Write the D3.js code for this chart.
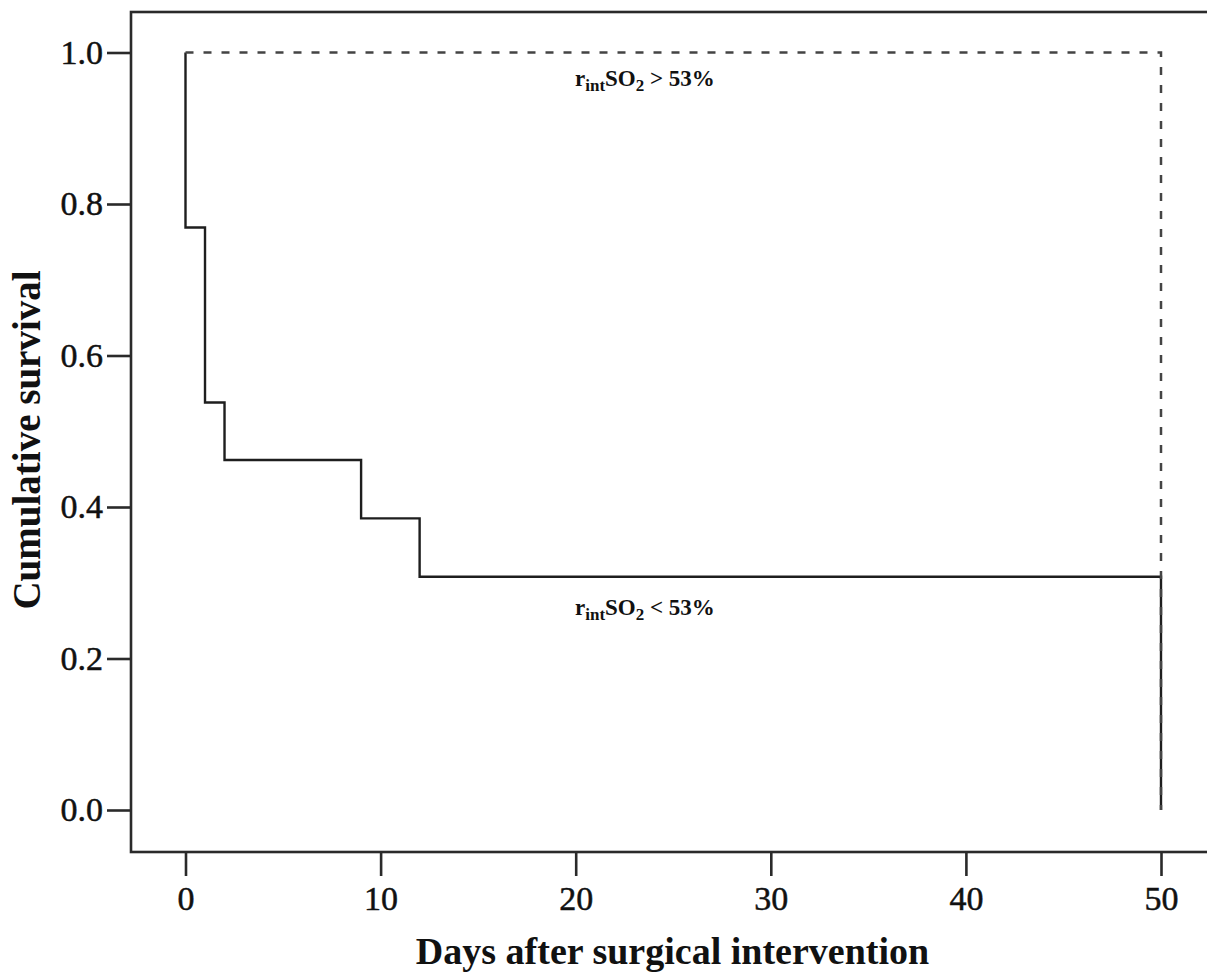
<!DOCTYPE html>
<html>
<head>
<meta charset="utf-8">
<script src="https://cdn.jsdelivr.net/npm/d3@7"></script>
<style>
  html, body { margin: 0; padding: 0; background: #fff; }
  svg { display: block; }
</style>
</head>
<body>
<svg id="chart" width="1207" height="972"></svg>
<script>
// ---- data ----
const xTicks = [0, 10, 20, 30, 40, 50];
const yTicks = [0.0, 0.2, 0.4, 0.6, 0.8, 1.0];
// rintSO2 > 53% (dashed)
const highTimes = [0, 50];
const highSurv  = [1.0, 0.0];
// rintSO2 < 53% (solid)
const lowTimes = [0, 0, 1, 2, 9, 12, 50];
const lowSurv  = [1.0, 0.769, 0.538, 0.462, 0.385, 0.308, 0.0];
const xTitle = "Days after surgical intervention";
const yTitle = "Cumulative survival";

// ---- layout ----
const svg = d3.select("#chart");
const frame = { left: 131, top: 12, right: 1214, bottom: 852 };
const x = d3.scaleLinear().domain([0, 50]).range([185.5, 1161]);
const y = d3.scaleLinear().domain([0, 1]).range([810, 52.5]);
const serif = "'Liberation Serif', 'Times New Roman', serif";
const ink = "#2a2a2a";

// frame
svg.append("rect")
  .attr("x", frame.left).attr("y", frame.top)
  .attr("width", frame.right - frame.left).attr("height", frame.bottom - frame.top)
  .attr("fill", "none").attr("stroke", ink).attr("stroke-width", 2.6);

// axes
const xAxis = svg.append("g")
  .attr("transform", `translate(0,${frame.bottom})`)
  .call(d3.axisBottom(x).tickValues(xTicks).tickSize(24).tickPadding(10).tickFormat(d3.format("d")));
const yAxis = svg.append("g")
  .attr("transform", `translate(${frame.left},0)`)
  .call(d3.axisLeft(y).tickValues(yTicks).tickSize(24).tickPadding(4).tickFormat(d3.format(".1f")));
[xAxis, yAxis].forEach(g => {
  g.select(".domain").remove();
  g.selectAll(".tick line").attr("stroke", ink).attr("stroke-width", 2.6);
  g.selectAll(".tick text").attr("fill", "#111").attr("font-family", serif).attr("font-size", 34)
    .attr("stroke", "#111").attr("stroke-width", 0.5);
});

// survival curves
const line = d3.line().x(d => x(d[0])).y(d => y(d[1])).curve(d3.curveStepAfter);
const lowPts = lowTimes.map((t, i) => [t, lowSurv[i]]);
const highPts = highTimes.map((t, i) => [t, highSurv[i]]);

svg.append("path").datum(lowPts)
  .attr("d", line).attr("fill", "none")
  .attr("stroke", "#1e1e1e").attr("stroke-width", 2.4);
svg.append("path").datum(highPts)
  .attr("d", line).attr("fill", "none")
  .attr("stroke", "#444").attr("stroke-width", 2.5)
  .attr("stroke-dasharray", "8,10");

// labels
function groupLabel(px, py, rel) {
  const t = svg.append("text")
    .attr("x", px).attr("y", py)
    .attr("font-family", serif).attr("font-weight", "bold")
    .attr("font-size", 23).attr("fill", "#111");
  t.append("tspan").text("r");
  t.append("tspan").attr("font-size", 17).attr("dy", 5).text("int");
  t.append("tspan").attr("dy", -5).text("SO");
  t.append("tspan").attr("font-size", 17).attr("dy", 5).text("2");
  t.append("tspan").attr("dy", -5).text(" " + rel + " 53%");
}
groupLabel(575, 86, ">");
groupLabel(575, 615, "<");

// axis titles
svg.append("text")
  .attr("x", (frame.left + frame.right) / 2).attr("y", 964)
  .attr("text-anchor", "middle")
  .attr("font-family", serif).attr("font-weight", "bold").attr("font-size", 38)
  .attr("fill", "#111").text(xTitle);
svg.append("text")
  .attr("transform", `translate(40,440) rotate(-90)`)
  .attr("text-anchor", "middle")
  .attr("font-family", serif).attr("font-weight", "bold").attr("font-size", 39)
  .attr("fill", "#111").text(yTitle);
</script>
</body>
</html>
